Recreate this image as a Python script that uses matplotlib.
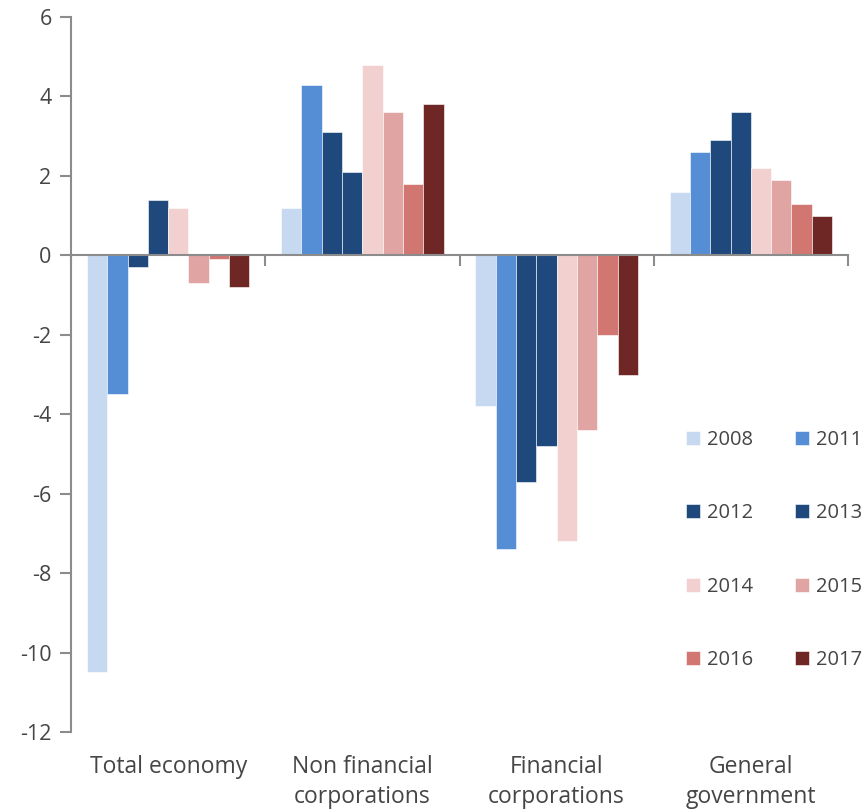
import numpy as np
import matplotlib.pyplot as plt
from matplotlib.transforms import blended_transform_factory

plt.rcParams['font.family'] = ['Open Sans', 'DejaVu Sans']
plt.rcParams['axes.unicode_minus'] = False

categories = ["Total economy", "Non financial\ncorporations", "Financial\ncorporations", "General\ngovernment"]
years = ["2008", "2011", "2012", "2013", "2014", "2015", "2016", "2017"]
colors = ["#C6D9F1", "#558ED5", "#1F497D", "#1F497D", "#F2D0D0", "#E0A4A2", "#D27672", "#6F2726"]

# valori per anno (una lista per categoria)
v2008 = [-10.5, 1.2, -3.8, 1.6]
v2011 = [-3.5, 4.3, -7.4, 2.6]
v2012 = [-0.3, 3.1, -5.7, 2.9]
v2013 = [1.4, 2.1, -4.8, 3.6]
v2014 = [1.2, 4.8, -7.2, 2.2]
v2015 = [-0.7, 3.6, -4.4, 1.9]
v2016 = [-0.1, 1.8, -2.0, 1.3]
v2017 = [-0.8, 3.8, -3.0, 1.0]
values = [v2008, v2011, v2012, v2013, v2014, v2015, v2016, v2017]

grey = "#454545"
axis_grey = "#8C8C8C"

fig = plt.figure(figsize=(8.63, 8.10), dpi=100)
ax = fig.add_axes([0.0823, 0.0963, 0.9003, 0.8827])

x = np.arange(len(categories)) + 0.5
w = 0.1046
for i, (yr, vals) in enumerate(zip(years, values)):
    ax.bar(x + (i - 3.5) * w, vals, width=w, color=colors[i], label=yr,
           edgecolor="white", linewidth=0.4)

ax.set_xlim(0, 4)
ax.set_ylim(-12, 6)
ax.set_yticks(np.arange(-12, 7, 2))
ax.tick_params(axis="y", colors=axis_grey, labelcolor=grey, labelsize=15.5,
               length=8, width=1.5, direction="out", pad=6)

# asse x sullo zero con tacche ai confini delle categorie
ax.spines["bottom"].set_position(("data", 0))
ax.spines["bottom"].set_color(axis_grey)
ax.spines["bottom"].set_linewidth(1.5)
ax.spines["left"].set_color(axis_grey)
ax.spines["left"].set_linewidth(1.5)
ax.spines["top"].set_visible(False)
ax.spines["right"].set_visible(False)
ax.set_xticks([0, 1, 2, 3, 4])
ax.set_xticklabels([])
ax.tick_params(axis="x", colors=axis_grey, length=8, width=1.5, direction="out")

trans = blended_transform_factory(ax.transData, ax.transAxes)
for xi, cat in zip(x, categories):
    ax.text(xi, -0.032, cat, transform=trans, ha="center", va="top",
            fontsize=16.5, color=grey, linespacing=1.35)

handles, labels = ax.get_legend_handles_labels()
order = [0, 2, 4, 6, 1, 3, 5, 7]
leg = fig.legend([handles[k] for k in order], [labels[k] for k in order],
                 ncol=2, loc="upper left", bbox_to_anchor=(0.785, 0.479),
                 frameon=False, fontsize=14.5, labelcolor=grey,
                 handlelength=0.7, handleheight=0.7, handletextpad=0.35,
                 columnspacing=2.1, labelspacing=2.65, borderaxespad=0)

fig.savefig("out.png", dpi=100)
